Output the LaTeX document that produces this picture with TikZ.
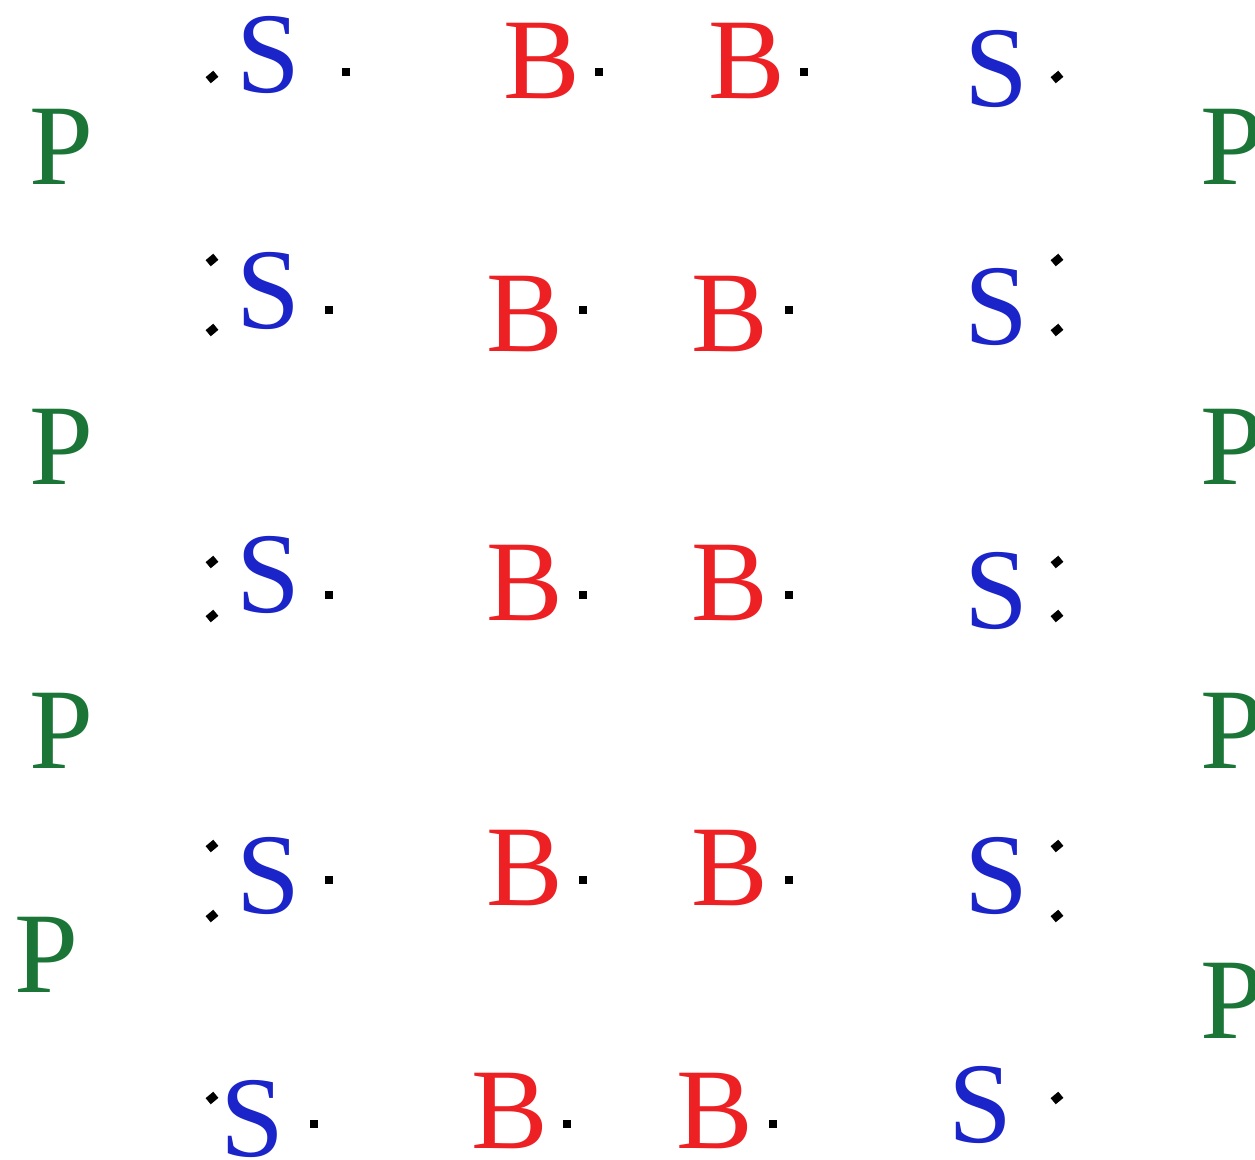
\documentclass[tikz,border=0pt]{standalone}
\usepackage{fontspec}
\setmainfont{Liberation Serif}
\definecolor{sblue}{RGB}{27,36,200}
\definecolor{bred}{RGB}{237,32,36}
\definecolor{pgreen}{RGB}{27,117,55}
\tikzset{
  atom/.style={inner sep=0pt, outer sep=0pt, anchor=base, font=\fontsize{115}{115}\selectfont},
  satom/.style={atom, text=sblue},
  batom/.style={atom, text=bred},
  patom/.style={atom, text=pgreen},
  sqdot/.style={fill=black, inner sep=0pt, minimum size=7.5pt, rectangle},
  diadot/.style={fill=black, inner sep=0pt, minimum width=10pt, minimum height=8pt, rectangle, rotate=40},
}
\begin{document}
\begin{tikzpicture}[x=1pt,y=-1pt]
\useasboundingbox (0,0) rectangle (1255,1159);

% phosphorus column, left
\node[patom] (pl1) at (61,184) {P};
\node[patom] (pl2) at (61,484) {P};
\node[patom] (pl3) at (61,768) {P};
\node[patom] (pl4) at (46,992) {P};
% phosphorus column, right (runs past the right edge)
\node[patom] (pr1) at (1232,184) {P};
\node[patom] (pr2) at (1232,484) {P};
\node[patom] (pr3) at (1232,768) {P};
\node[patom] (pr4) at (1232,1038) {P};

% row 1
\node[satom] (s11) at (268,92) {S};
\node[batom] (b11) at (542,98) {B};
\node[batom] (b12) at (747,98) {B};
\node[satom] (s12) at (996,106) {S};
\node[diadot] (d11) at (212,77) {};
\node[sqdot]  (q11) at (346,72) {};
\node[sqdot]  (q12) at (599,72) {};
\node[sqdot]  (q13) at (804,72) {};
\node[diadot] (d12) at (1057,77) {};

% row 2
\node[satom] (s21) at (268,328) {S};
\node[batom] (b21) at (525,351) {B};
\node[batom] (b22) at (730,351) {B};
\node[satom] (s22) at (996,344) {S};
\node[diadot] (d21) at (212,260) {};
\node[diadot] (d22) at (212,330) {};
\node[sqdot]  (q21) at (329,310) {};
\node[sqdot]  (q22) at (583,310) {};
\node[sqdot]  (q23) at (789,310) {};
\node[diadot] (d23) at (1057,260) {};
\node[diadot] (d24) at (1057,330) {};

% row 3
\node[satom] (s31) at (268,612) {S};
\node[batom] (b31) at (525,620) {B};
\node[batom] (b32) at (730,620) {B};
\node[satom] (s32) at (996,628) {S};
\node[diadot] (d31) at (212,562) {};
\node[diadot] (d32) at (212,616) {};
\node[sqdot]  (q31) at (329,595) {};
\node[sqdot]  (q32) at (583,595) {};
\node[sqdot]  (q33) at (789,595) {};
\node[diadot] (d33) at (1057,562) {};
\node[diadot] (d34) at (1057,616) {};

% row 4
\node[satom] (s41) at (268,913) {S};
\node[batom] (b41) at (525,905) {B};
\node[batom] (b42) at (730,905) {B};
\node[satom] (s42) at (996,913) {S};
\node[diadot] (d41) at (212,846) {};
\node[diadot] (d42) at (212,916) {};
\node[sqdot]  (q41) at (329,880) {};
\node[sqdot]  (q42) at (583,880) {};
\node[sqdot]  (q43) at (789,880) {};
\node[diadot] (d43) at (1057,846) {};
\node[diadot] (d44) at (1057,916) {};

% row 5
\node[satom] (s51) at (252,1156) {S};
\node[batom] (b51) at (510,1148) {B};
\node[batom] (b52) at (715,1148) {B};
\node[satom] (s52) at (980,1142) {S};
\node[diadot] (d51) at (212,1098) {};
\node[sqdot]  (q51) at (314,1124) {};
\node[sqdot]  (q52) at (567,1124) {};
\node[sqdot]  (q53) at (773,1124) {};
\node[diadot] (d52) at (1057,1098) {};
\end{tikzpicture}
\end{document}
